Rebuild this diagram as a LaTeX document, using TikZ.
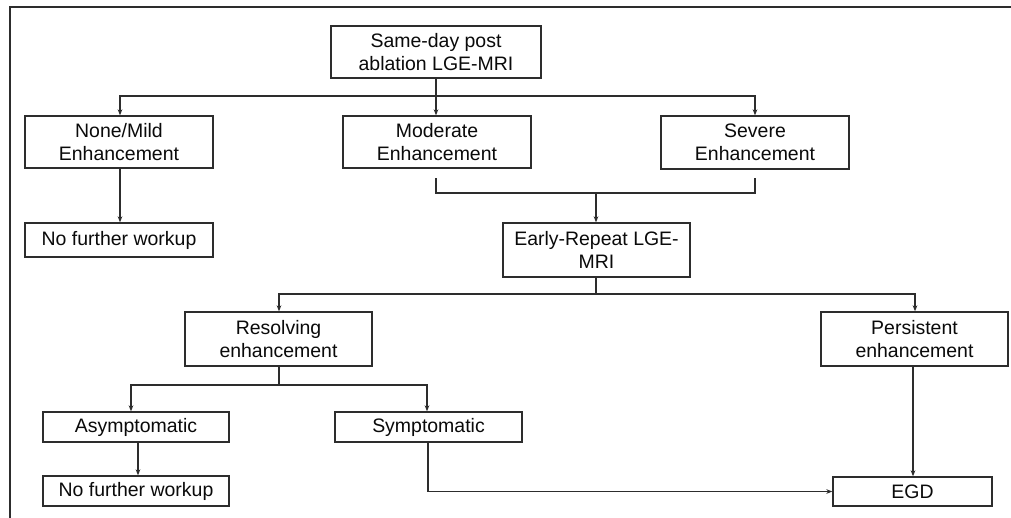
\documentclass[tikz,border=0pt]{standalone}
\usepackage{fontspec}
\setmainfont{Liberation Sans}
\usetikzlibrary{arrows.meta}
\definecolor{ln}{RGB}{45,45,45}
\definecolor{tx}{RGB}{10,10,10}
\tikzset{
  box/.style={draw=ln, line width=1.05pt, rectangle, inner sep=0pt, align=center,
    text=tx, font=\fontsize{14.6}{17}\selectfont},
  conn/.style={draw=ln, line width=0.85pt},
  arr/.style={conn, -{Stealth[length=4.5pt,width=3.5pt]}},
}
\begin{document}
\begin{tikzpicture}[x=0.75pt,y=-0.75pt]
\useasboundingbox (0,0) rectangle (1011,518);
\fill[white] (0,0) rectangle (1011,518);
\draw[ln, line width=1.5pt] (10,519) -- (10,7) -- (1012,7);

\node[box, minimum width=210*0.75pt, minimum height=52*0.75pt] (top) at (436,52) {Same-day post\\ablation LGE-MRI};
\node[box, minimum width=188*0.75pt, minimum height=52*0.75pt] (none) at (119,142) {None/Mild\\Enhancement};
\node[box, minimum width=188*0.75pt, minimum height=52*0.75pt] (mod) at (437,142) {Moderate\\Enhancement};
\node[box, minimum width=188*0.75pt, minimum height=53*0.75pt] (sev) at (755,142.5) {Severe\\Enhancement};
\node[box, minimum width=188*0.75pt, minimum height=34*0.75pt] (nfwa) at (119,240) {No further workup};
\node[box, minimum width=187*0.75pt, minimum height=54*0.75pt] (early) at (596.5,250) {Early-Repeat LGE-\\MRI};
\node[box, minimum width=187*0.75pt, minimum height=54*0.75pt] (res) at (278.5,339) {Resolving\\enhancement};
\node[box, minimum width=187*0.75pt, minimum height=54*0.75pt] (pers) at (914.5,339) {Persistent\\enhancement};
\node[box, minimum width=186*0.75pt, minimum height=30*0.75pt] (asym) at (136,427) {Asymptomatic};
\node[box, minimum width=187*0.75pt, minimum height=30*0.75pt] (sym) at (428.5,427) {Symptomatic};
\node[box, minimum width=186*0.75pt, minimum height=30*0.75pt] (nfwb) at (136,491) {No further workup};
\node[box, minimum width=159*0.75pt, minimum height=29*0.75pt] (egd) at (912.5,491.5) {EGD};

% level 1
\coordinate (j1) at (436,96);
\draw[conn] (top.south -| j1) -- (j1);
\draw[arr] (j1) -| (120,0 |- none.north);
\draw[arr] (j1) -- (436,0 |- mod.north);
\draw[arr] (j1) -| (755,0 |- sev.north);
\draw[arr] (120,0 |- none.south) -- (120,0 |- nfwa.north);

% bracket
\coordinate (b1) at (436,178);
\coordinate (b2) at (755,178);
\coordinate (j2) at (596,193);
\draw[conn] (b1) |- (j2) -| (b2);
\draw[arr] (j2) -- (early.north -| j2);

% level 2
\coordinate (j3) at (596,294);
\draw[conn] (early.south -| j3) -- (j3);
\draw[arr] (j3) -| (279,0 |- res.north);
\draw[arr] (j3) -| (915,0 |- pers.north);

% level 3
\coordinate (j4) at (279,385);
\draw[conn] (res.south -| j4) -- (j4);
\draw[arr] (j4) -| (131,0 |- asym.north);
\draw[arr] (j4) -| (427,0 |- sym.north);
\draw[arr] (138,0 |- asym.south) -- (138,0 |- nfwb.north);
\draw[arr] (428,0 |- sym.south) |- (egd.west);
\draw[arr] (913,0 |- pers.south) -- (913,0 |- egd.north);
\end{tikzpicture}
\end{document}
